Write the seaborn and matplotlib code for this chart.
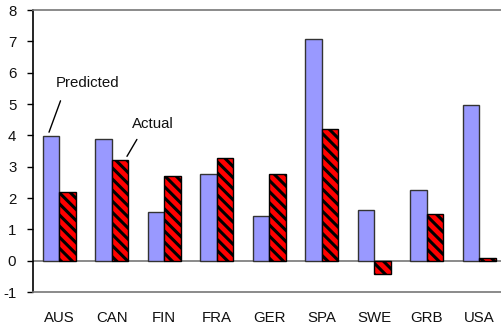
import matplotlib
matplotlib.use("Agg")
import matplotlib.pyplot as plt
import pandas as pd
import seaborn as sns

countries = ["AUS", "CAN", "FIN", "FRA", "GER", "SPA", "SWE", "GRB", "USA"]
predicted = [3.98, 3.87, 1.56, 2.77, 1.41, 7.06, 1.61, 2.25, 4.98]
actual = [2.19, 3.20, 2.70, 3.29, 2.78, 4.21, -0.42, 1.48, 0.09]

sns.set_theme(style="white")
plt.rcParams["font.family"] = ["Liberation Sans", "DejaVu Sans"]
plt.rcParams["hatch.linewidth"] = 2.2
plt.rcParams["axes.unicode_minus"] = False

df = pd.DataFrame({
    "country": countries * 2,
    "value": predicted + actual,
    "series": ["Predicted"] * len(countries) + ["Actual"] * len(countries),
})

fig = plt.figure(figsize=(5.02, 3.30), dpi=100)
ax = fig.add_axes([33 / 502, 38 / 330, 9 * 52.5 / 502, 282 / 330])

sns.barplot(data=df, x="country", y="value", hue="series", order=countries,
            hue_order=["Predicted", "Actual"], palette=["#9999FF", "#FF0000"],
            width=0.63, gap=0, saturation=1, legend=False, ax=ax,
            edgecolor="#333333", linewidth=1.0)

for bar in ax.containers[1]:
    bar.set_hatch("\\\\\\")
    bar.set_edgecolor("black")

ax.set_xlim(-0.5, 8.5)
ax.set_ylim(-1, 8)
ax.set_yticks(range(-1, 9))
ax.set_xlabel("")
ax.set_ylabel("")
ax.axhline(0, color="#777777", linewidth=1.2, zorder=0.5)

for side in ["top", "bottom"]:
    ax.spines[side].set_color("#777777")
    ax.spines[side].set_linewidth(1.2)
ax.spines["right"].set_visible(False)
ax.spines["left"].set_color("black")
ax.spines["left"].set_linewidth(1.2)

ax.tick_params(axis="y", left=True, length=4, width=1, color="black",
               labelsize=10.8, labelcolor="#111111", pad=8)
ax.tick_params(axis="x", bottom=False, labelsize=10.8, labelcolor="#111111", pad=8)

ax.annotate("Predicted", xy=(-0.195, 4.1), xytext=(0.538, 5.68),
            ha="center", va="center", fontsize=10.8, color="#111111",
            arrowprops=dict(arrowstyle="-", color="black", lw=1,
                            relpos=(0.14, 0), shrinkA=6, shrinkB=0))
ax.annotate("Actual", xy=(1.29, 3.33), xytext=(1.776, 4.35),
            ha="center", va="center", fontsize=10.8, color="#111111",
            arrowprops=dict(arrowstyle="-", color="black", lw=1,
                            relpos=(0.24, 0), shrinkA=4, shrinkB=0))

fig.savefig("out.png", dpi=100)
